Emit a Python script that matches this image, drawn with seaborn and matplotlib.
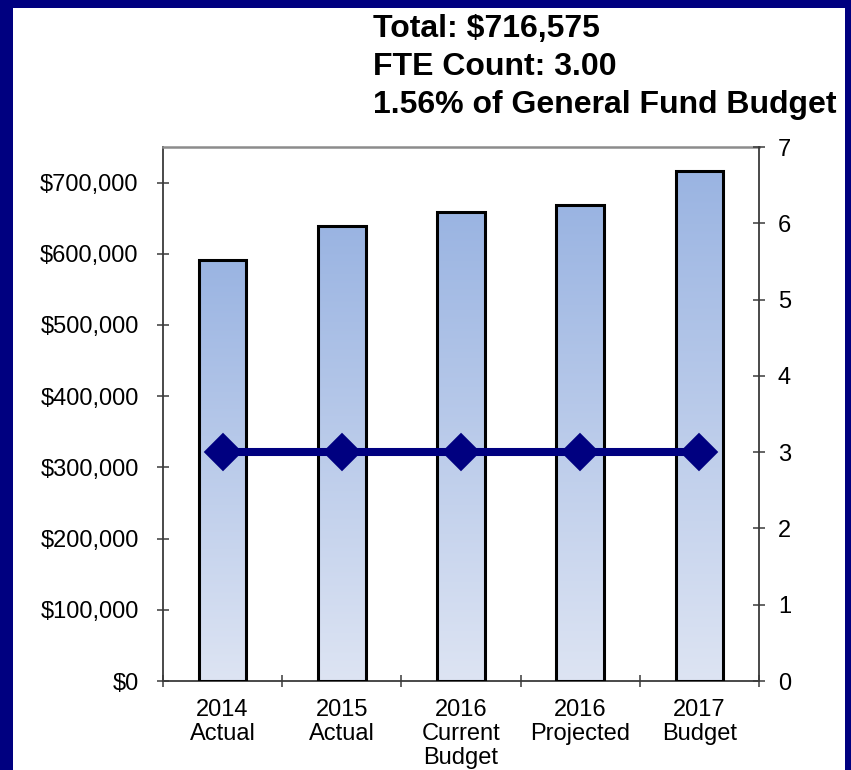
import numpy as np
import pandas as pd
import matplotlib
matplotlib.use("Agg")
import matplotlib.pyplot as plt
from matplotlib.patches import Rectangle
from matplotlib.ticker import FuncFormatter, FixedLocator
from matplotlib.colors import LinearSegmentedColormap
import seaborn as sns

# Budget by year and staffing level
categories = ["2014\nActual", "2015\nActual", "2016\nCurrent\nBudget",
              "2016\nProjected", "2017\nBudget"]
expenditures = [591000, 639000, 659000, 668500, 716575]
fte_counts = [3.0, 3.0, 3.0, 3.0, 3.0]
title_lines = ["Total: $716,575", "FTE Count: 3.00", "1.56% of General Fund Budget"]

sns.set_theme(style="white")
plt.rcParams["font.family"] = ["Liberation Sans", "DejaVu Sans"]

NAVY = "#000080"
AXIS_DARK = "#3a3a3a"
LABEL_SIZE = 17

df = pd.DataFrame({"category": categories, "expenditure": expenditures, "fte": fte_counts})

fig = plt.figure(figsize=(8.51, 7.70), dpi=100)
fig.patch.set_facecolor(NAVY)
# white slide panel inside the navy frame
fig.patches.append(Rectangle((13 / 851, 0), (845 - 13) / 851, (770 - 8) / 770,
                             transform=fig.transFigure, facecolor="white",
                             edgecolor="none", zorder=-10))

ax = fig.add_axes([163 / 851, 1 - 681 / 770, (759 - 163) / 851, (681 - 147) / 770])
ax.set_facecolor("none")

sns.barplot(data=df, x="category", y="expenditure", ax=ax, width=0.4,
            color="#9bb5e3", edgecolor="black", linewidth=2.2, errorbar=None,
            zorder=3)

# vertical gradient fill for each bar
grad_cmap = LinearSegmentedColormap.from_list("bar_grad", ["#dde4f3", "#9ab4e2"])
grad = np.linspace(0, 1, 256).reshape(-1, 1)
for patch in list(ax.patches):
    x0, y0 = patch.get_x(), patch.get_y()
    w, h = patch.get_width(), patch.get_height()
    im = ax.imshow(grad, cmap=grad_cmap, origin="lower", aspect="auto",
                   extent=[x0, x0 + w, y0, y0 + h], zorder=2)
    im.set_clip_path(patch)
    patch.set_facecolor("none")

ax.set_xlim(-0.5, len(categories) - 0.5)
ax.set_ylim(0, 750000)
ax.yaxis.set_major_locator(FixedLocator(np.arange(0, 700001, 100000)))
ax.yaxis.set_major_formatter(FuncFormatter(lambda v, p: f"${v:,.0f}"))
ax.set_xlabel("")
ax.set_ylabel("")

# category labels centred, tick marks between categories
ax.set_xticks(np.arange(len(categories)))
ax.set_xticklabels(categories, linespacing=1.12)
ax.set_xticks(np.arange(-0.5, len(categories)), minor=True)
ax.tick_params(axis="x", which="major", length=0, pad=13, labelsize=LABEL_SIZE,
               labelcolor="black")
ax.tick_params(axis="x", which="minor", direction="inout", length=9, width=1.1,
               color=AXIS_DARK, bottom=True)
ax.tick_params(axis="y", direction="inout", length=9, width=1.1, color=AXIS_DARK,
               left=True, labelsize=LABEL_SIZE, labelcolor="black", pad=13)

for side in ["left", "bottom"]:
    ax.spines[side].set_color(AXIS_DARK)
    ax.spines[side].set_linewidth(1.3)
ax.spines["top"].set_color("#8c8c8c")
ax.spines["top"].set_linewidth(1.8)
ax.spines["right"].set_visible(False)

# FTE count on secondary axis
ax2 = ax.twinx()
sns.pointplot(data=df, x="category", y="fte", ax=ax2, color=NAVY, markers="D",
              markersize=15, linewidth=5.8, errorbar=None)
ax2.set_xlim(-0.5, len(categories) - 0.5)
ax2.set_ylim(0, 7)
ax2.yaxis.set_major_locator(FixedLocator(np.arange(0, 8, 1)))
ax2.set_ylabel("")
ax2.set_xlabel("")
ax2.tick_params(axis="y", direction="inout", length=9, width=1.1, color=AXIS_DARK,
                right=True, labelsize=LABEL_SIZE, labelcolor="black", pad=9)
for side in ["left", "top", "bottom"]:
    ax2.spines[side].set_visible(False)
ax2.spines["right"].set_color(AXIS_DARK)
ax2.spines["right"].set_linewidth(1.3)
ax2.grid(False)
ax.grid(False)

# header text block
for i, line in enumerate(title_lines):
    fig.text(373 / 851, 1 - (29 + 38 * i) / 770, line, ha="left", va="center",
             fontsize=23, fontweight="bold", color="black")

fig.savefig("out.png", dpi=100, facecolor=fig.get_facecolor())
